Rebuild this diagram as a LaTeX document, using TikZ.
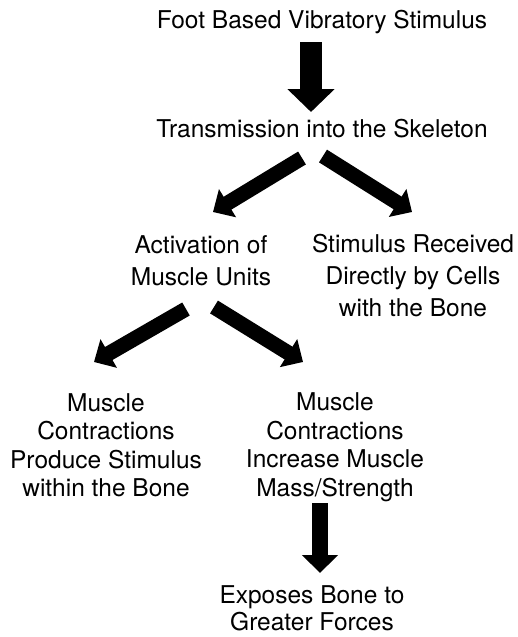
\documentclass[tikz,border=0pt]{standalone}
\usepackage{fontspec}
\setmainfont{TeX Gyre Heros}
\usetikzlibrary{arrows.meta}
\tikzset{
  steptext/.style={align=center, inner sep=0pt, font=\fontsize{12.25}{16}\selectfont},
  steptight/.style={steptext, font=\fontsize{12.25}{14.25}\selectfont},
  steplast/.style={steptext, font=\fontsize{12.25}{13.5}\selectfont},
  bigarrow/.style={line width=11pt, -{Triangle[width=23pt, length=11.5pt]}},
  slantarrow/.style={line width=7.5pt, -{Triangle[width=16pt, length=8.5pt]}},
  smallarrow/.style={line width=8pt, -{Triangle[width=17.5pt, length=9pt]}},
}

\begin{document}
\begin{tikzpicture}[x=0.5pt, y=-0.5pt]
      \useasboundingbox (0,0) rectangle (518,637);

      \node[steptext] (foot) at (322,22) {Foot Based Vibratory Stimulus};
      \node[steptext] (trans) at (322,129) {Transmission into the Skeleton};
      \node[steptext] (activ) at (201,261) {Activation of\\Muscle Units};
      \node[steptext] (direct) at (413,276) {Stimulus Received\\Directly by Cells\\with the Bone};
      \node[steptight] (produce) at (106,445) {Muscle\\Contractions\\Produce Stimulus\\within the Bone};
      \node[steptight] (increase) at (335,447) {Muscle\\Contractions\\Increase Muscle\\Mass/Strength};
      \node[steplast] (expose) at (312,608) {Exposes Bone to\\Greater Forces};

      \coordinate (t1) at (311,42);
      \coordinate (h1) at (311,112);
      \coordinate (t2) at (302,158);
      \coordinate (h2) at (213,212);
      \coordinate (t3) at (323,156);
      \coordinate (h3) at (412,212);
      \coordinate (t4) at (186,309);
      \coordinate (h4) at (94,362);
      \coordinate (t5) at (214,307);
      \coordinate (h5) at (303,362);
      \coordinate (t6) at (320,503);
      \coordinate (h6) at (320,573);

      \draw[bigarrow] (t1)--(h1);
      \draw[slantarrow] (t2)--(h2);
      \draw[slantarrow] (t3)--(h3);
      \draw[slantarrow] (t4)--(h4);
      \draw[slantarrow] (t5)--(h5);
      \draw[smallarrow] (t6)--(h6);
    \end{tikzpicture}
\end{document}
